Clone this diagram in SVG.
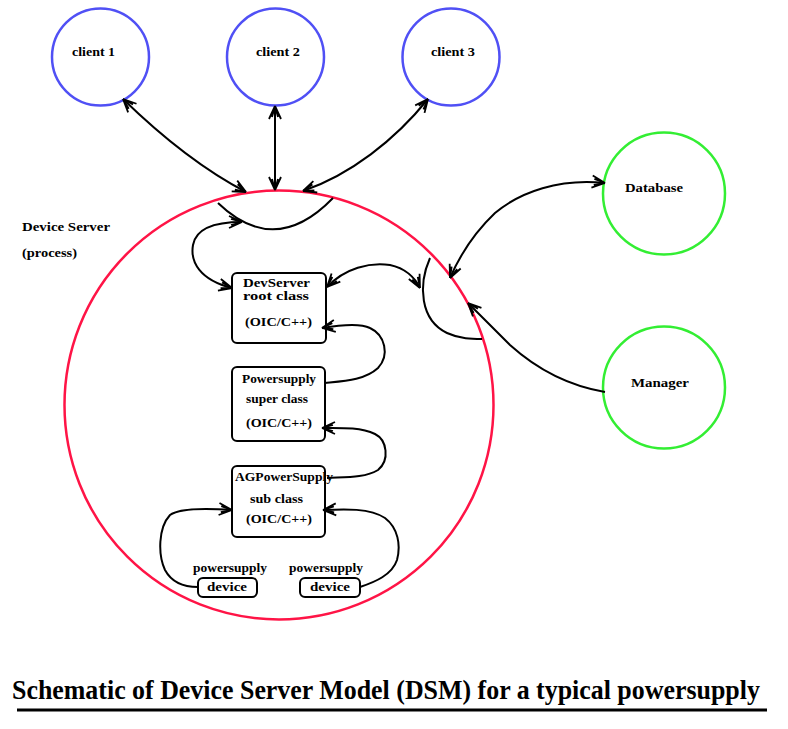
<svg xmlns="http://www.w3.org/2000/svg" width="788" height="729" viewBox="0 0 788 729">
<style>
.lbl{font-family:"Liberation Serif","DejaVu Serif",serif;font-weight:bold;font-size:13px;fill:#000}
.sm{font-size:12px}
.blue{fill:none;stroke:#5050f5;stroke-width:2.5}
.green{fill:none;stroke:#33ee33;stroke-width:2.5}
.red{fill:none;stroke:#ff1446;stroke-width:2.5}
.box{fill:#fff;stroke:#000;stroke-width:2}
.con{fill:none;stroke:#000;stroke-width:2}
</style>
<defs>
<marker id="ah" viewBox="-15 -8 17 16" refX="0" refY="0" markerWidth="17" markerHeight="16" markerUnits="userSpaceOnUse" orient="auto-start-reverse">
<path d="M0,0 L-13,-6 M0,0 L-13,6 M0,0 L-11,-3 M0,0 L-11,3" fill="none" stroke="#000" stroke-width="1.8"/>
</marker>
</defs>
<rect width="788" height="729" fill="#fff"/>

<g id="server">
<circle class="red" cx="279" cy="405" r="214.5"/>
<text class="lbl" x="22" y="231" textLength="88" lengthAdjust="spacingAndGlyphs">Device Server</text>
<text class="lbl" x="22" y="257" textLength="55" lengthAdjust="spacingAndGlyphs">(process)</text>
</g>

<g id="client1">
<circle class="blue" cx="100.5" cy="57" r="48.5"/>
<text class="lbl" x="72" y="56" textLength="43" lengthAdjust="spacingAndGlyphs">client 1</text>
</g>
<g id="client2">
<circle class="blue" cx="275.5" cy="57" r="48.5"/>
<text class="lbl" x="256" y="56" textLength="44" lengthAdjust="spacingAndGlyphs">client 2</text>
</g>
<g id="client3">
<circle class="blue" cx="451" cy="57" r="48.5"/>
<text class="lbl" x="431" y="56" textLength="44" lengthAdjust="spacingAndGlyphs">client 3</text>
</g>

<g id="database">
<circle class="green" cx="664" cy="193.5" r="61"/>
<text class="lbl" x="625" y="192" textLength="58" lengthAdjust="spacingAndGlyphs">Database</text>
</g>
<g id="manager">
<circle class="green" cx="664" cy="387.5" r="61"/>
<text class="lbl" x="631" y="387" textLength="58" lengthAdjust="spacingAndGlyphs">Manager</text>
</g>

<g id="devserver">
<rect class="box" x="232" y="273" width="94" height="70" rx="5"/>
<text class="lbl sm" x="243" y="287" textLength="67" lengthAdjust="spacingAndGlyphs">DevServer</text>
<text class="lbl sm" x="243" y="300" textLength="66" lengthAdjust="spacingAndGlyphs">root class</text>
<text class="lbl" x="245" y="326" textLength="67" lengthAdjust="spacingAndGlyphs">(OIC/C++)</text>
</g>

<g id="powersupply">
<rect class="box" x="232" y="367" width="93" height="74" rx="5"/>
<text class="lbl" x="242" y="383" textLength="74" lengthAdjust="spacingAndGlyphs">Powersupply</text>
<text class="lbl" x="246" y="403" textLength="62" lengthAdjust="spacingAndGlyphs">super class</text>
<text class="lbl" x="246" y="427" textLength="66" lengthAdjust="spacingAndGlyphs">(OIC/C++)</text>
</g>

<g id="agpowersupply">
<rect class="box" x="232" y="466" width="93" height="71" rx="5"/>
<text class="lbl" x="235" y="481" textLength="98" lengthAdjust="spacingAndGlyphs">AGPowerSupply</text>
<text class="lbl" x="250" y="503" textLength="53" lengthAdjust="spacingAndGlyphs">sub class</text>
<text class="lbl" x="246" y="523" textLength="66" lengthAdjust="spacingAndGlyphs">(OIC/C++)</text>
</g>

<g id="device1">
<text class="lbl" x="193" y="572" textLength="74" lengthAdjust="spacingAndGlyphs">powersupply</text>
<rect class="box" x="198" y="578" width="59" height="19" rx="5"/>
<text class="lbl" x="207" y="591" textLength="40" lengthAdjust="spacingAndGlyphs">device</text>
</g>
<g id="device2">
<text class="lbl" x="289" y="572" textLength="74" lengthAdjust="spacingAndGlyphs">powersupply</text>
<rect class="box" x="300" y="578" width="60" height="19" rx="5"/>
<text class="lbl" x="310" y="591" textLength="40" lengthAdjust="spacingAndGlyphs">device</text>
</g>

<g id="connectors">
<path class="con" d="M123,99 C160,135 200,168 246,192" marker-start="url(#ah)" marker-end="url(#ah)"/>
<path class="con" d="M275,106 L275,190" marker-start="url(#ah)" marker-end="url(#ah)"/>
<path class="con" d="M428,99 C395,140 350,175 303,191" marker-start="url(#ah)" marker-end="url(#ah)"/>
<path class="con" d="M218,203 Q275,258 333,198"/>
<path class="con" d="M232,288 C200,280 190,262 193,245 C196,228 215,222 242,222" marker-start="url(#ah)" marker-end="url(#ah)"/>
<path class="con" d="M327,287 C345,268 370,262 390,265 C405,268 415,278 420,288" marker-start="url(#ah)" marker-end="url(#ah)"/>
<path class="con" d="M430,258 C418,285 420,320 447,333 C460,339 472,339 482,339"/>
<path class="con" d="M605,183 C560,178 520,192 495,213 C475,232 460,255 450,278" marker-start="url(#ah)" marker-end="url(#ah)"/>
<path class="con" d="M605,392 C570,386 540,372 510,345 C495,330 480,315 468,303" marker-end="url(#ah)"/>
<path class="con" d="M325,383 C345,381 365,380 378,368 C390,355 385,335 370,328 C360,323 340,325 322,328" marker-end="url(#ah)"/>
<path class="con" d="M327,478 C345,477 365,478 378,470 C390,460 387,440 375,434 C360,427 340,428 322,428" marker-end="url(#ah)"/>
<path class="con" d="M198,587 C185,587 172,583 165,570 C158,555 158,528 170,515 C180,508 205,508 232,510" marker-end="url(#ah)"/>
<path class="con" d="M360,587 C375,582 392,575 397,560 C401,545 398,528 385,518 C370,508 345,509 323,510" marker-end="url(#ah)"/>
</g>

<g id="title">
<text transform="translate(12,699) scale(0.82,1)" x="0" y="0" font-family="Liberation Serif, DejaVu Serif, serif" font-weight="bold" font-size="28" textLength="912" lengthAdjust="spacingAndGlyphs">Schematic of Device Server Model (DSM) for a typical powersupply</text>
<line x1="17" y1="710" x2="767" y2="710" stroke="#000" stroke-width="3"/>
</g>
</svg>
